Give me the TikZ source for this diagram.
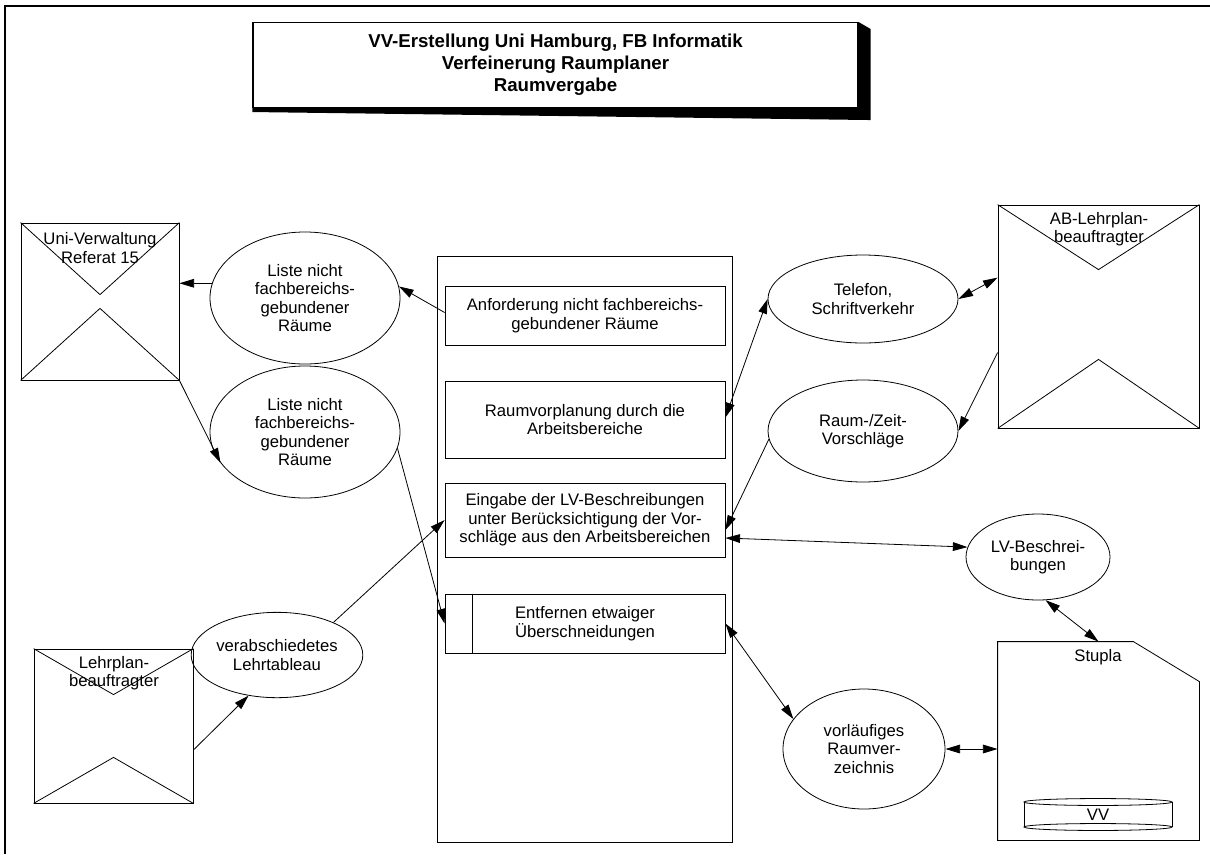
\documentclass[tikz,border=0pt]{standalone}
\usepackage{fontspec}
\setmainfont{Liberation Sans}
\usetikzlibrary{shapes.geometric,arrows.meta,calc}

\begin{document}
\begin{tikzpicture}[x=0.75pt,y=-0.75pt,
  line width=0.6pt,
  every node/.style={font=\fontsize{12.5}{13.8}\selectfont, align=center, inner sep=0pt},
  proc/.style={draw, ellipse},
  act/.style={draw, rectangle, minimum width=210pt},
  env/.style={draw, rectangle},
  flow/.style={-{Triangle[length=11pt,width=6.5pt]}},
  flowboth/.style={{Triangle[length=11pt,width=6.5pt]}-{Triangle[length=11pt,width=6.5pt]}},
]
\useasboundingbox (0,0) rectangle (1210,854);

% page frame
\draw[line width=1.6pt] (5,854) -- (5,6) -- (1210,6);

% title block with shadow
\node[draw, line width=0.8pt, fill=white, minimum width=453.75pt, minimum height=63.75pt,
      font=\bfseries\fontsize{14}{16.5}\selectfont] (title) at (555.5,65)
  {VV-Erstellung Uni Hamburg, FB Informatik\\Verfeinerung Raumplaner\\Raumvergabe};
\fill (title.north east) -- ($(title.north east)+(12,7)$) -- ($(title.south east)+(12,12)$)
  -- ($(title.south west)+(0,4)$) -- (title.south west) -- (title.south east) -- cycle;

% central activity container
\node[draw, minimum width=221.25pt, minimum height=439.5pt] (main) at (584.5,549) {};
\node[act, minimum height=44.25pt] (b1) at (585,315.5) {Anforderung nicht fachbereichs-\\gebundener Räume};
\node[act, minimum height=57.75pt] (b2) at (585,419.5) {Raumvorplanung durch die\\Arbeitsbereiche};
\node[act, minimum height=55.5pt] (b3) at (585,520) {Eingabe der LV-Beschreibungen\\unter Berücksichtigung der Vor-\\schläge aus den Arbeitsbereichen};
\node[act, minimum height=44.25pt] (b4) at (585,623.5) {Entfernen etwaiger\\Überschneidungen};
\draw ($(b4.north west)+(28,0)$) -- ($(b4.south west)+(28,0)$);

% data flows (ellipses)
\node[proc, minimum width=142.5pt, minimum height=99pt] (e1) at (305,298) {Liste nicht\\fachbereichs-\\gebundener\\Räume};
\node[proc, minimum width=142.5pt, minimum height=99pt] (e2) at (305,432) {Liste nicht\\fachbereichs-\\gebundener\\Räume};
\node[proc, minimum width=124pt, minimum height=64pt] (e3) at (277,655) {verabschiedetes\\Lehrtableau};
\node[proc, minimum width=142.5pt, minimum height=66pt] (e4) at (863,299) {Telefon,\\Schriftverkehr};
\node[proc, minimum width=142.5pt, minimum height=76.5pt] (e5) at (863,431) {Raum-/Zeit-\\Vorschläge};
\node[proc, minimum width=108pt, minimum height=64.5pt] (e6) at (1038,557) {LV-Beschrei-\\bungen};
\node[proc, minimum width=121.5pt, minimum height=90pt] (e7) at (864,749) {vorläufiges\\Raumver-\\zeichnis};

% external parties (envelopes)
\node[env, minimum width=118.5pt, minimum height=117.75pt] (uni) at (100,301.5) {};
\draw (uni.north west) -- ($(uni.north)+(0,72)$) -- (uni.north east);
\draw (uni.south west) -- ($(uni.south)+(0,-72)$) -- (uni.south east);
\node (unit) at (100,248) {Uni-Verwaltung\\Referat 15};

\node[env, minimum width=119.25pt, minimum height=115.5pt] (lp) at (113.5,726) {};
\draw (lp.north west) -- ($(lp.north)+(0,46)$) -- (lp.north east);
\draw (lp.south west) -- ($(lp.south)+(0,-46)$) -- (lp.south east);
\node (lpt) at (114,673) {Lehrplan-\\beauftragter};

\node[env, minimum width=150.75pt, minimum height=167.25pt] (ab) at (1098.5,316.5) {};
\draw (ab.north west) -- ($(ab.north)+(0,65)$) -- (ab.north east);
\draw (ab.south west) -- ($(ab.south)+(0,-69)$) -- (ab.south east);
\node (abt) at (1099,229) {AB-Lehrplan-\\beauftragter};

% Stupla document with VV store
\node[minimum width=150.75pt, minimum height=148.5pt] (stupla) at (1098.5,741) {};
\draw (stupla.south west) -- (stupla.north west) -- ($(stupla.north east)+(-66,0)$)
  -- ($(stupla.north east)+(0,40)$) -- (stupla.south east) -- cycle;
\node (stuplat) at (1098,657) {Stupla};
\node (vv) at (1098,815) {VV};
\draw ($(vv)+(-74,-13)$) -- ($(vv)+(-74,12)$);
\draw ($(vv)+(74,-13)$) -- ($(vv)+(74,12)$);
\draw ($(vv)+(0,-13)$) ellipse [x radius=55.5pt, y radius=2.6pt];
\draw ($(vv)+(0,12)$) ellipse [x radius=55.5pt, y radius=2.6pt];

% connectors
\draw[flow] ($(b1.west)+(0,-3)$) -- (e1.7);
\draw[flow] (e1.171) -- (e1.171 -| uni.east);
\draw[flow] (uni.south east) -- (e2.200);
\draw[flow] (e2.-10) -- (b4.west);
\draw[flow] (e3.30) -- (b3.west);
\draw[flow] ($(lp.east)+(0,24)$) -- (e3.235);
\draw[flowboth] ($(b2.east)+(0,-2)$) -- (e4.west);
\draw[flowboth] (e4.east) -- ($(ab.north west)+(0,73)$);
\draw[flow] ($(ab.north west)+(0,148)$) -- (e5.east);
\draw[flow] (e5.185) -- ($(b3.east)+(0,10)$);
\draw[flowboth] ($(b3.east)+(0,18)$) -- (e6.172);
\draw[flowboth] (e6.-80) -- (stupla.north);
\draw[flowboth] (b4.east) -- (e7.157);
\draw[flowboth] (e7.east) -- (e7.east -| stupla.west);
\end{tikzpicture}
\end{document}
